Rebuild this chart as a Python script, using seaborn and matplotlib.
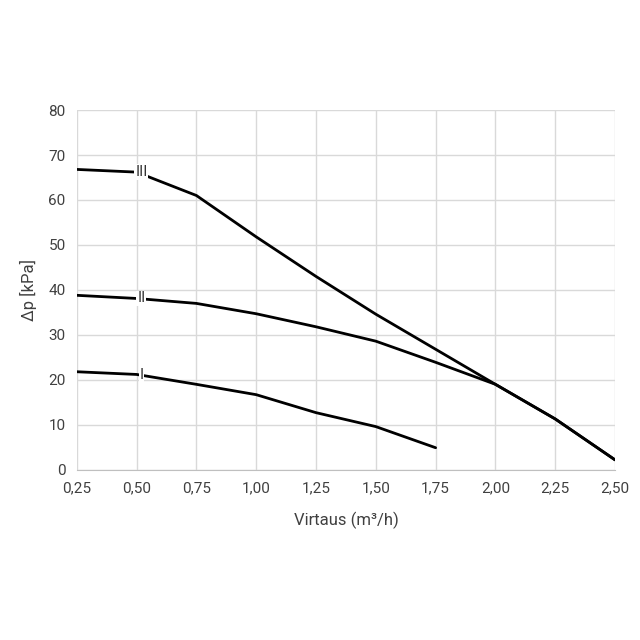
import matplotlib
matplotlib.use("Agg")
import matplotlib.pyplot as plt
import seaborn as sns
import pandas as pd

flow = [0.25, 0.50, 0.75, 1.00, 1.25, 1.50, 1.75, 2.00, 2.25, 2.50]
curve_iii = [66.8, 66.2, 61.0, 51.8, 43.0, 34.6, 26.8, 19.0, 11.3, 2.2]
curve_ii = [38.8, 38.1, 37.0, 34.7, 31.8, 28.6, 23.9, 19.0, 11.3, 2.2]
curve_i = [21.8, 21.2, 19.0, 16.7, 12.7, 9.6, 4.9]
labels = ["III", "II", "I"]
label_pos = [(0.52, 66.2), (0.52, 38.1), (0.52, 21.0)]

sns.set_style("white")
plt.rcParams["font.family"] = ["Roboto", "DejaVu Sans"]

fig = plt.figure(figsize=(6.4, 6.4), dpi=100)
ax = fig.add_axes([0.12, 0.266, 0.841, 0.562])

for ys in (curve_iii, curve_ii, curve_i):
    df = pd.DataFrame({"x": flow[:len(ys)], "y": ys})
    sns.lineplot(data=df, x="x", y="y", ax=ax, color="black", linewidth=2)

for lab, (x, y) in zip(labels, label_pos):
    ax.text(x, y, lab, ha="center", va="center", fontsize=11, color="#333333",
            bbox=dict(facecolor="white", edgecolor="none", pad=0.5))

ax.set_xlim(0.25, 2.5)
ax.set_ylim(0, 80)
xt = [0.25 * i for i in range(1, 11)]
ax.set_xticks(xt)
ax.set_xticklabels([f"{v:.2f}".replace(".", ",") for v in xt])
ax.set_yticks(range(0, 81, 10))
ax.grid(True, color="#d9d9d9", linewidth=1)
for s in ("left", "right", "top"):
    ax.spines[s].set_visible(False)
ax.spines["bottom"].set_color("#bfbfbf")
ax.tick_params(colors="#404040", labelsize=11, length=0, pad=8)
ax.set_xlabel("Virtaus (m³/h)", fontsize=12, color="#404040", labelpad=12)
ax.set_ylabel("Δp [kPa]", fontsize=12, color="#404040", labelpad=8)

fig.savefig("out.png", dpi=100)
